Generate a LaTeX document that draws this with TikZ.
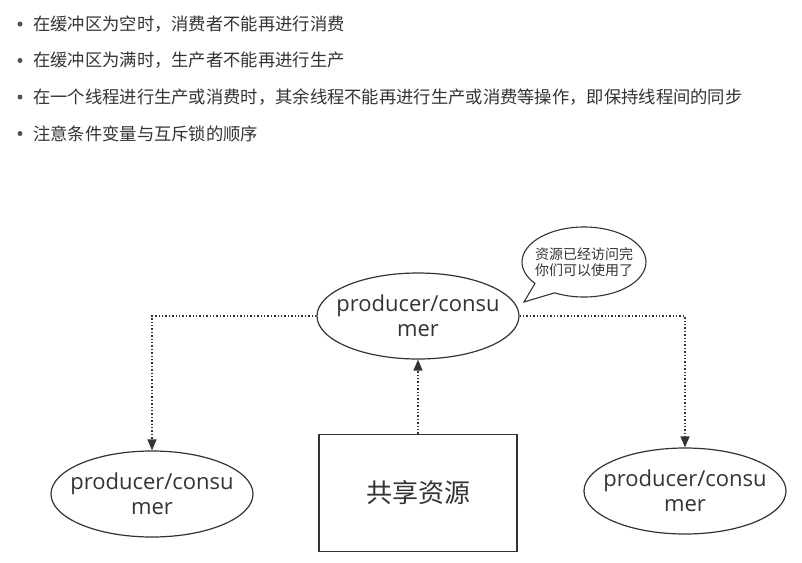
\documentclass[tikz,border=0pt]{standalone}
\usepackage{fontspec}
\setmainfont{Open Sans}
\newfontfamily\cjk{Noto Sans CJK SC}
\usetikzlibrary{positioning}
\usetikzlibrary{shapes.geometric}
\usetikzlibrary{shapes.callouts}
\usetikzlibrary{arrows.meta}
\definecolor{ink}{HTML}{333333}
\newcommand{\bulletgap}{13pt}
\tikzstyle{item} = [font=\cjk\fontsize{17.3}{20}\selectfont, text=ink, anchor=west, inner sep=0pt]
\tikzstyle{actor} = [ellipse, draw=ink, line width=1.2pt, minimum width=202pt, minimum height=86pt, align=center, text=ink, font=\fontsize{22}{25}\selectfont, inner xsep=-12pt, inner ysep=0pt]
\tikzstyle{store} = [rectangle, draw=ink, line width=1.4pt, minimum width=198pt, minimum height=117pt, text=ink, font=\cjk\fontsize{26}{30}\selectfont]
\tikzstyle{bubble} = [ellipse callout, draw=ink, line width=1.1pt, minimum width=124pt, minimum height=70pt, align=center, text=ink, font=\cjk\fontsize{14}{16}\selectfont, inner xsep=-8pt, inner ysep=0pt, callout pointer arc=24]
\tikzstyle{link} = [draw=ink, line width=1.4pt, dash pattern=on 1.4pt off 2pt, -{Triangle[length=11pt,width=9pt]}]

\begin{document}
\begin{tikzpicture}[x=1pt, y=1pt, node distance=36.5pt]

		\useasboundingbox (0,0) rectangle (802,-562);

		\node (item_one) [item] at (33,-24) {在缓冲区为空时，消费者不能再进行消费};
		\node (item_two) [below=of item_one.west, item] {在缓冲区为满时，生产者不能再进行生产};
		\node (item_three) [below=of item_two.west, item] {在一个线程进行生产或消费时，其余线程不能再进行生产或消费等操作，即保持线程间的同步};
		\node (item_four) [below=of item_three.west, item] {注意条件变量与互斥锁的顺序};
		\foreach \n in {item_one,item_two,item_three,item_four}
			\fill [ink!85] ([xshift=-\bulletgap]\n.west) circle (2.5pt);

		\node (top_pc) [actor] at (418,-316) {producer/consu\\mer};
		\node (res) [store] at (418,-493) {共享资源};
		\node (left_pc) [actor] at (152,-494) {producer/consu\\mer};
		\node (right_pc) [actor] at (685,-491) {producer/consu\\mer};

		\coordinate (tip) at (524,-302);
		\node (note) [bubble, callout absolute pointer={(tip)}] at (584,-262) {资源已经访问完\\你们可以使用了};

		\draw [link] (res.north) -- (top_pc.south);
		\draw [link] (top_pc.west) -| (left_pc.north);
		\draw [link] (top_pc.east) -| (right_pc.north);

	\end{tikzpicture}
\end{document}
